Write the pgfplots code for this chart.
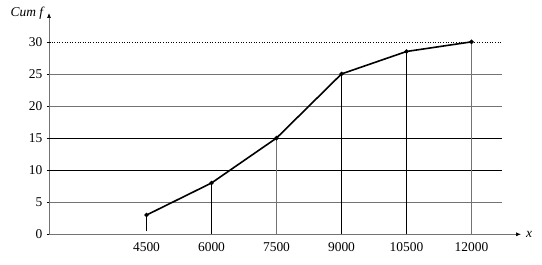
\documentclass[border=0pt]{standalone}
\usepackage{fontspec}
\setmainfont{Liberation Serif}
\usepackage{pgfplots}
\usetikzlibrary{arrows.meta}
\pgfplotsset{compat=1.18}
\begin{document}
\fontsize{13.5}{15}\selectfont
\begin{tikzpicture}
\begin{axis}[
  at={(0,0)}, anchor=south west,
  scale only axis, width=472bp, height=221.3bp,
  xmin=2250, xmax=13142, ymin=0, ymax=34.5,
  axis x line=bottom, axis y line=left,
  axis line style={black!55, line width=0.7bp, -{Latex[length=5bp,width=4bp,black]}},
  xtick={4500,6000,7500,9000,10500,12000},
  ytick={0,5,10,15,20,25,30},
  scaled x ticks=false,
  xtick style={draw=none},
  ytick style={black, line width=0.5bp},
  major tick length=4bp,
  x tick label style={yshift=-2bp, /pgf/number format/1000 sep={}},
  /pgf/number format/assume math mode=true,
  clip=false,
]
% horizontal grid lines
\draw[black!55, line width=0.6bp] (axis cs:2250,5) -- (axis cs:12700,5);
\draw[black, line width=0.6bp] (axis cs:2250,10) -- (axis cs:12700,10);
\draw[black, line width=0.6bp] (axis cs:2250,15) -- (axis cs:12700,15);
\draw[black!55, line width=0.6bp] (axis cs:2250,20) -- (axis cs:12700,20);
\draw[black!55, line width=0.6bp] (axis cs:2250,25) -- (axis cs:12700,25);
\draw[black, line width=0.6bp, dotted] (axis cs:2250,30) -- (axis cs:12700,30);
% drop lines
\addplot[black, line width=0.6bp] coordinates {(4500,0.5) (4500,3)};
\addplot[black, line width=0.6bp] coordinates {(6000,0) (6000,8)};
\addplot[black!55, line width=0.6bp] coordinates {(7500,0) (7500,15)};
\addplot[black, line width=0.6bp] coordinates {(9000,0) (9000,25)};
\addplot[black, line width=0.6bp] coordinates {(10500,0) (10500,28.5)};
\addplot[black!55, line width=0.6bp] coordinates {(12000,0) (12000,30)};
% ogive
\addplot[black, line width=1.6bp, mark=*, mark size=1.3bp] coordinates {
  (4500,3) (6000,8) (7500,15) (9000,25) (10500,28.5) (12000,30)};
\node[anchor=east, inner sep=0pt] at (rel axis cs:0,1) [xshift=-4bp] {\textit{Cum f}};
\node[anchor=west, inner sep=0pt] at (rel axis cs:1,0) [xshift=5bp] {\textit{x}};
\end{axis}
\pgfresetboundingbox
\path[use as bounding box] (-49bp,-30.7bp) rectangle (493bp,234.3bp);
\end{tikzpicture}
\end{document}
